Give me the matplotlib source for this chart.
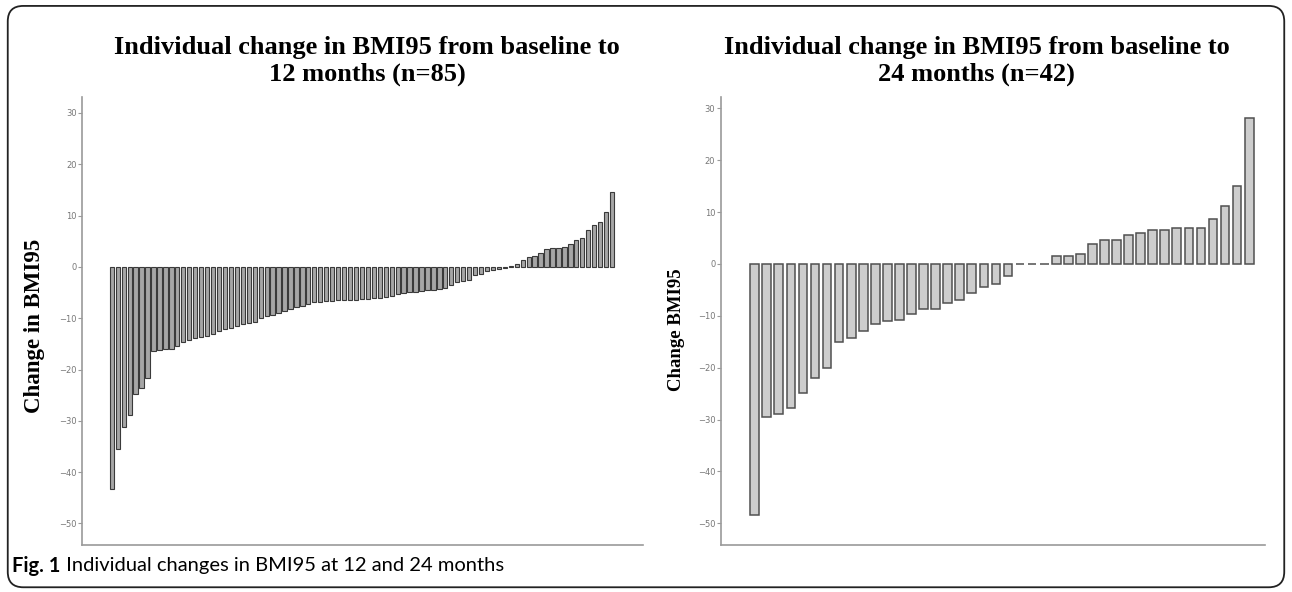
import matplotlib.pyplot as plt
from matplotlib.patches import FancyBboxPatch

# individual change in BMI95, sorted, baseline -> 12 months (n=85)
change_12m = [
    -43.2, -35.5, -31.2, -28.8, -24.8, -23.6, -21.6, -16.3, -16.2, -16.1,
    -16.0, -15.5, -14.6, -14.3, -13.8, -13.6, -13.5, -13.0, -12.4, -12.2,
    -12.0, -11.5, -11.2, -11.0, -10.8, -10.0, -9.6, -9.3, -8.9, -8.6,
    -8.2, -7.9, -7.6, -7.2, -6.9, -6.8, -6.7, -6.6, -6.5, -6.5,
    -6.4, -6.4, -6.3, -6.2, -6.1, -6.0, -5.9, -5.6, -5.3, -5.0,
    -4.9, -4.8, -4.7, -4.6, -4.5, -4.4, -4.2, -3.5, -2.9, -2.8,
    -2.6, -1.6, -1.3, -0.9, -0.7, -0.5, -0.2, 0.2, 0.6, 1.3,
    2.0, 2.2, 2.7, 3.4, 3.6, 3.7, 3.9, 4.5, 5.2, 5.7,
    7.2, 8.2, 8.8, 10.7, 14.6,
]

# baseline -> 24 months (n=42)
change_24m = [
    -48.5, -29.6, -29.0, -27.7, -24.9, -22.0, -20.1, -15.0, -14.2, -12.9,
    -11.5, -11.0, -10.8, -9.6, -8.6, -8.6, -7.5, -7.0, -5.6, -4.5,
    -3.8, -2.4, -0.1, -0.1, -0.1, 1.6, 1.6, 2.0, 3.9, 4.6,
    4.6, 5.6, 6.0, 6.5, 6.6, 6.9, 6.9, 6.9, 8.6, 11.1,
    15.1, 28.2,
]

yticks = [30, 20, 10, 0, -10, -20, -30, -40, -50]
titles = ['Individual change in BMI95 from baseline to\n12 months (n=85)',
          'Individual change in BMI95 from baseline to\n24 months (n=42)']
ylabels = ['Change in BMI95', 'Change BMI95']
caption_bold = 'Fig. 1'
caption_text = ' Individual changes in BMI95 at 12 and 24 months'

serif = 'Liberation Serif'

fig = plt.figure(figsize=(12.92, 5.92), dpi=100)

ax1 = fig.add_axes([0.0635, 0.0794, 0.4342, 0.7567])
ax2 = fig.add_axes([0.5580, 0.0794, 0.4210, 0.7567])

ax1.bar(range(len(change_12m)), change_12m, width=0.72,
        color='#a6a6a6', edgecolor='#3a3a3a', linewidth=0.8)
ax1.set_xlim(-5.0, 89.2)
ax1.set_ylim(-54.2, 33.1)

ax2.bar(range(len(change_24m)), change_24m, width=0.72,
        color='#cdcdcd', edgecolor='#505050', linewidth=1.1)
ax2.set_xlim(-2.8, 42.3)
ax2.set_ylim(-54.2, 32.2)

for ax, ylab, fs, lx, ly in [(ax1, ylabels[0], 16.5, -0.066, 0.49),
                             (ax2, ylabels[1], 13.5, -0.066, 0.48)]:
    ax.spines['top'].set_visible(False)
    ax.spines['right'].set_visible(False)
    ax.spines['left'].set_color('#9a9a9a')
    ax.spines['bottom'].set_color('#9a9a9a')
    ax.spines['left'].set_linewidth(1.2)
    ax.spines['bottom'].set_linewidth(1.2)
    ax.set_xticks([])
    ax.set_yticks(yticks)
    ax.tick_params(axis='y', length=3, width=0.8, color='#9a9a9a',
                   labelsize=6, labelcolor='#777777', pad=1)
    ax.set_ylabel(ylab, fontfamily=serif, fontweight='bold', fontsize=fs)
    ax.yaxis.set_label_coords(lx, ly)

fig.text(0.284, 0.897, titles[0], ha='center', va='center', fontfamily=serif,
         fontweight='bold', fontsize=19, linespacing=1.25)
fig.text(0.756, 0.897, titles[1], ha='center', va='center', fontfamily=serif,
         fontweight='bold', fontsize=19, linespacing=1.25)

cap = fig.text(0.0095, 0.044, caption_bold, ha='left', va='center',
               fontfamily='Lato', fontweight='bold', fontsize=14.5)
fig.canvas.draw()
bb = cap.get_window_extent()
fig.text(bb.x1 / fig.bbox.width, 0.044, caption_text, ha='left', va='center',
         fontfamily='Lato', fontsize=14.5)

frame = FancyBboxPatch((0.006, 0.008), 0.988, 0.982,
                       boxstyle='round,pad=0,rounding_size=0.012',
                       transform=fig.transFigure, fill=False,
                       edgecolor='#222222', linewidth=1.3, mutation_aspect=2.18)
fig.patches.append(frame)

plt.savefig('out.png', dpi=100)
